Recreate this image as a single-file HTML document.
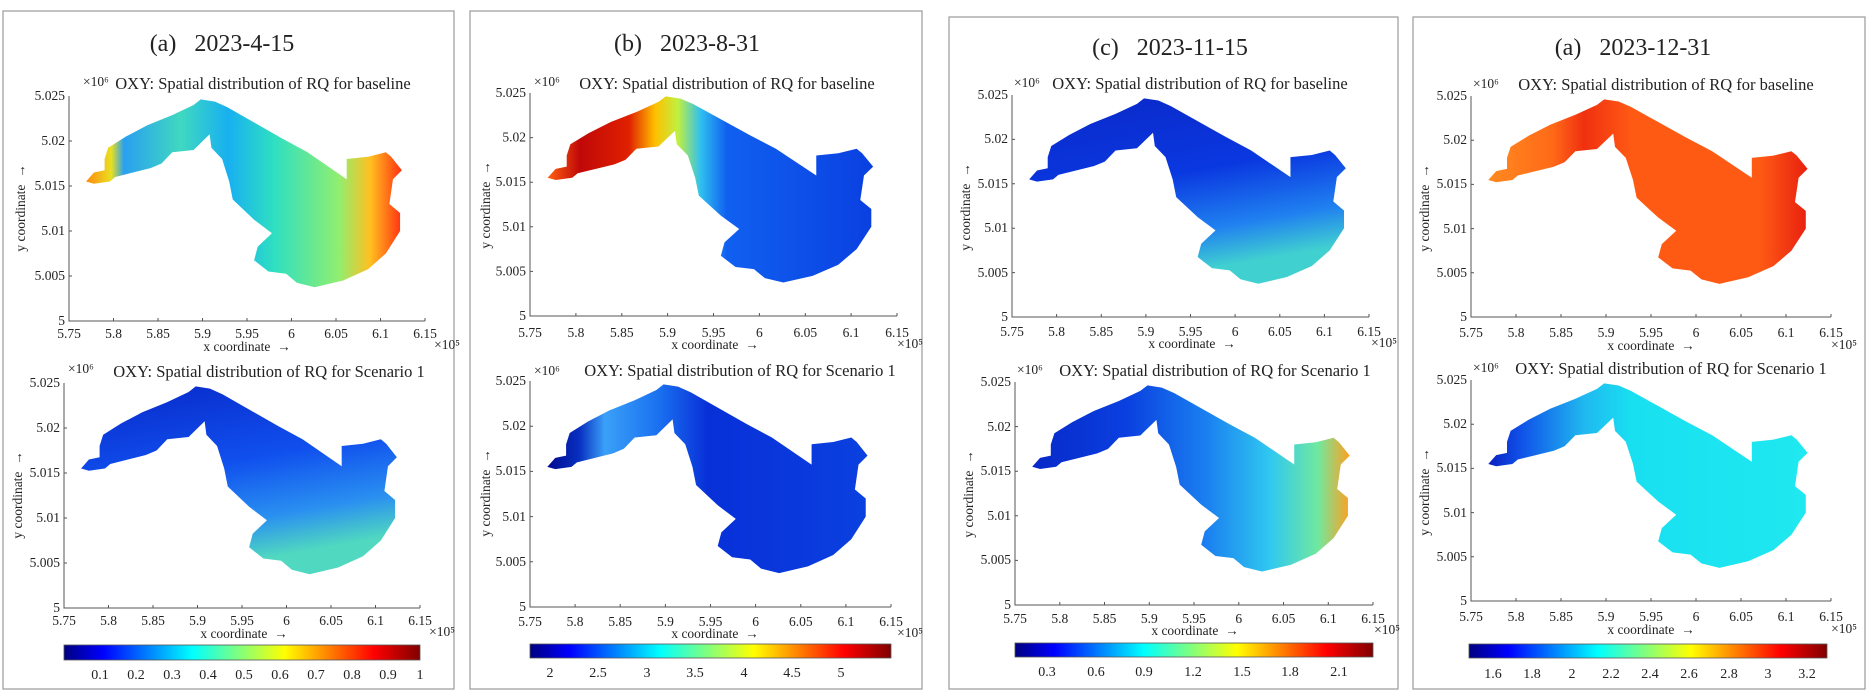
<!DOCTYPE html>
<html><head><meta charset="utf-8"><style>
html,body{margin:0;padding:0;background:#fff;}
svg{display:block;}
text{font-family:"Liberation Serif",serif;fill:#222;}
.tk{font-size:13.5px;}
.ax{font-size:13.5px;}
.st{font-size:16.5px;}
.tt{font-size:24px;}
.cb{font-size:14px;}
</style></head><body>
<svg width="1867" height="697" viewBox="0 0 1867 697" xmlns="http://www.w3.org/2000/svg">
<defs>
<linearGradient id="jet" x1="0" y1="0" x2="1" y2="0">
<stop offset="0" stop-color="#000080"/><stop offset="0.11" stop-color="#0000ff"/><stop offset="0.36" stop-color="#00ffff"/><stop offset="0.62" stop-color="#ffff00"/><stop offset="0.87" stop-color="#ff0000"/><stop offset="1" stop-color="#800000"/>
</linearGradient>
<linearGradient id="g1t" x1="0" y1="0" x2="1" y2="0">
<stop offset="0" stop-color="#ff8a10"/><stop offset="0.08" stop-color="#e8e020"/><stop offset="0.12" stop-color="#2aa0f0"/><stop offset="0.3" stop-color="#40d8c0"/><stop offset="0.45" stop-color="#18b0f0"/><stop offset="0.6" stop-color="#30e0c0"/><stop offset="0.8" stop-color="#90ee70"/><stop offset="0.9" stop-color="#ffc020"/><stop offset="1" stop-color="#ff3010"/>
</linearGradient>
<linearGradient id="g1b" x1="0" y1="0" x2="0.3" y2="1">
<stop offset="0" stop-color="#0828c8"/><stop offset="0.5" stop-color="#1050ee"/><stop offset="0.8" stop-color="#2a90f0"/><stop offset="1" stop-color="#50d8c0"/>
</linearGradient>
<linearGradient id="g2t" x1="0" y1="0" x2="1" y2="0">
<stop offset="0" stop-color="#ff6010"/><stop offset="0.1" stop-color="#c00808"/><stop offset="0.25" stop-color="#e02000"/><stop offset="0.33" stop-color="#ffc000"/><stop offset="0.4" stop-color="#c0f040"/><stop offset="0.47" stop-color="#30c0f0"/><stop offset="0.55" stop-color="#1060f0"/><stop offset="1" stop-color="#0a40e0"/>
</linearGradient>
<linearGradient id="g2b" x1="0" y1="0" x2="1" y2="0">
<stop offset="0" stop-color="#000a90"/><stop offset="0.1" stop-color="#0830c0"/><stop offset="0.18" stop-color="#3aa0f8"/><stop offset="0.35" stop-color="#1a70f0"/><stop offset="0.5" stop-color="#0830d8"/><stop offset="1" stop-color="#0a40e0"/>
</linearGradient>
<linearGradient id="g3t" x1="0" y1="0" x2="0.3" y2="1">
<stop offset="0" stop-color="#0a28c8"/><stop offset="0.5" stop-color="#0a38e0"/><stop offset="0.8" stop-color="#2080f0"/><stop offset="1" stop-color="#40d0d0"/>
</linearGradient>
<linearGradient id="g3b" x1="0" y1="0" x2="1" y2="0">
<stop offset="0" stop-color="#0828c8"/><stop offset="0.3" stop-color="#0a40e0"/><stop offset="0.55" stop-color="#1a80f0"/><stop offset="0.75" stop-color="#30c8f0"/><stop offset="0.9" stop-color="#70e8a0"/><stop offset="1" stop-color="#ffa020"/>
</linearGradient>
<linearGradient id="g4t" x1="0" y1="0" x2="1" y2="0">
<stop offset="0" stop-color="#ff8a20"/><stop offset="0.2" stop-color="#ff6a18"/><stop offset="0.3" stop-color="#f03010"/><stop offset="0.45" stop-color="#ff5a14"/><stop offset="0.85" stop-color="#ff5a14"/><stop offset="1" stop-color="#e82010"/>
</linearGradient>
<linearGradient id="g4b" x1="0" y1="0" x2="1" y2="0">
<stop offset="0" stop-color="#0a20c0"/><stop offset="0.1" stop-color="#1050e8"/><stop offset="0.3" stop-color="#20b8f0"/><stop offset="0.45" stop-color="#18e0f0"/><stop offset="1" stop-color="#20e8f0"/>
</linearGradient>
<polygon id="lake" points="0.048,0.38 0.07,0.34 0.10,0.33 0.10,0.28 0.11,0.23 0.16,0.18 0.22,0.13 0.29,0.085 0.35,0.04 0.37,0.015 0.41,0.025 0.445,0.05 0.60,0.19 0.67,0.25 0.78,0.37 0.78,0.28 0.84,0.27 0.89,0.25 0.905,0.27 0.935,0.33 0.91,0.37 0.90,0.48 0.93,0.52 0.93,0.60 0.89,0.70 0.84,0.77 0.77,0.82 0.69,0.85 0.64,0.83 0.61,0.79 0.56,0.78 0.52,0.73 0.53,0.67 0.57,0.61 0.52,0.55 0.46,0.46 0.45,0.38 0.43,0.28 0.40,0.23 0.395,0.17 0.35,0.24 0.29,0.25 0.26,0.30 0.23,0.32 0.13,0.36 0.115,0.38 0.07,0.39"/>
</defs>

<g fill="none" stroke="#9a9a9a" stroke-width="1.2">
<rect x="3" y="11" width="451" height="678"/>
<rect x="470" y="11" width="452" height="678"/>
<rect x="949" y="17" width="449" height="672"/>
<rect x="1413" y="17" width="452" height="672"/>
</g>

<text class="tt" x="222" y="51" text-anchor="middle">(a)&#160;&#160;&#160;2023-4-15</text>
<text class="tt" x="687" y="51" text-anchor="middle">(b)&#160;&#160;&#160;2023-8-31</text>
<text class="tt" x="1170" y="55" text-anchor="middle">(c)&#160;&#160;&#160;2023-11-15</text>
<text class="tt" x="1633" y="55" text-anchor="middle">(a)&#160;&#160;&#160;2023-12-31</text>

<!-- P1T -->
<g transform="translate(69,96)">
<svg x="0" y="0" width="356" height="225" viewBox="0 0 1 1" preserveAspectRatio="none"><use href="#lake" fill="url(#g1t)"/></svg>
<path d="M0,0V225H356M0,45h3M0,90h3M0,135h3M0,180h3M44.5,225v-3M89,225v-3M133.5,225v-3M178,225v-3M222.5,225v-3M267,225v-3M311.5,225v-3M356,225v-3" fill="none" stroke="#555" stroke-width="1"/>
<g class="tk" text-anchor="end"><text x="-4" y="4">5.025</text><text x="-4" y="49">5.02</text><text x="-4" y="94">5.015</text><text x="-4" y="139">5.01</text><text x="-4" y="184">5.005</text><text x="-4" y="229">5</text></g>
<g class="tk" text-anchor="middle"><text x="0" y="242">5.75</text><text x="44.5" y="242">5.8</text><text x="89" y="242">5.85</text><text x="133.5" y="242">5.9</text><text x="178" y="242">5.95</text><text x="222.5" y="242">6</text><text x="267" y="242">6.05</text><text x="311.5" y="242">6.1</text><text x="356" y="242">6.15</text></g>
<text class="tk" x="14" y="-10">×10⁶</text><text class="tk" x="378" y="253" text-anchor="middle">×10⁵</text>
<text class="ax" x="178" y="255" text-anchor="middle">x coordinate &#160;→</text>
<text class="ax" transform="translate(-44,112) rotate(-90)" text-anchor="middle">y coordinate &#160;→</text>
<text class="st" x="194" y="-7" text-anchor="middle">OXY: Spatial distribution of RQ for baseline</text>
</g>

<!-- P1B -->
<g transform="translate(64,383)">
<svg x="0" y="0" width="356" height="225" viewBox="0 0 1 1" preserveAspectRatio="none"><use href="#lake" fill="url(#g1b)"/></svg>
<path d="M0,0V225H356M0,45h3M0,90h3M0,135h3M0,180h3M44.5,225v-3M89,225v-3M133.5,225v-3M178,225v-3M222.5,225v-3M267,225v-3M311.5,225v-3M356,225v-3" fill="none" stroke="#555" stroke-width="1"/>
<g class="tk" text-anchor="end"><text x="-4" y="4">5.025</text><text x="-4" y="49">5.02</text><text x="-4" y="94">5.015</text><text x="-4" y="139">5.01</text><text x="-4" y="184">5.005</text><text x="-4" y="229">5</text></g>
<g class="tk" text-anchor="middle"><text x="0" y="242">5.75</text><text x="44.5" y="242">5.8</text><text x="89" y="242">5.85</text><text x="133.5" y="242">5.9</text><text x="178" y="242">5.95</text><text x="222.5" y="242">6</text><text x="267" y="242">6.05</text><text x="311.5" y="242">6.1</text><text x="356" y="242">6.15</text></g>
<text class="tk" x="4" y="-10">×10⁶</text><text class="tk" x="378" y="253" text-anchor="middle">×10⁵</text>
<text class="ax" x="180" y="255" text-anchor="middle">x coordinate &#160;→</text>
<text class="ax" transform="translate(-42,112) rotate(-90)" text-anchor="middle">y coordinate &#160;→</text>
<text class="st" x="205" y="-6" text-anchor="middle">OXY: Spatial distribution of RQ for Scenario 1</text>
</g>

<!-- P2T -->
<g transform="translate(530,93)">
<svg x="0" y="0" width="367" height="223" viewBox="0 0 1 1" preserveAspectRatio="none"><use href="#lake" fill="url(#g2t)"/></svg>
<path d="M0,0V223H367M0,44.6h3M0,89.2h3M0,133.8h3M0,178.4h3M45.9,223v-3M91.8,223v-3M137.6,223v-3M183.5,223v-3M229.4,223v-3M275.3,223v-3M321.1,223v-3M367,223v-3" fill="none" stroke="#555" stroke-width="1"/>
<g class="tk" text-anchor="end"><text x="-4" y="4">5.025</text><text x="-4" y="48.6">5.02</text><text x="-4" y="93.2">5.015</text><text x="-4" y="137.8">5.01</text><text x="-4" y="182.4">5.005</text><text x="-4" y="227">5</text></g>
<g class="tk" text-anchor="middle"><text x="0" y="244">5.75</text><text x="45.9" y="244">5.8</text><text x="91.8" y="244">5.85</text><text x="137.6" y="244">5.9</text><text x="183.5" y="244">5.95</text><text x="229.4" y="244">6</text><text x="275.3" y="244">6.05</text><text x="321.1" y="244">6.1</text><text x="367" y="244">6.15</text></g>
<text class="tk" x="4" y="-7">×10⁶</text><text class="tk" x="380" y="255" text-anchor="middle">×10⁵</text>
<text class="ax" x="185" y="256" text-anchor="middle">x coordinate &#160;→</text>
<text class="ax" transform="translate(-40,112) rotate(-90)" text-anchor="middle">y coordinate &#160;→</text>
<text class="st" x="197" y="-4" text-anchor="middle">OXY: Spatial distribution of RQ for baseline</text>
</g>

<!-- P2B -->
<g transform="translate(530,381)">
<svg x="0" y="0" width="361" height="226" viewBox="0 0 1 1" preserveAspectRatio="none"><use href="#lake" fill="url(#g2b)"/></svg>
<path d="M0,0V226H361M0,45.2h3M0,90.4h3M0,135.6h3M0,180.8h3M45.1,226v-3M90.2,226v-3M135.4,226v-3M180.5,226v-3M225.6,226v-3M270.8,226v-3M315.9,226v-3M361,226v-3" fill="none" stroke="#555" stroke-width="1"/>
<g class="tk" text-anchor="end"><text x="-4" y="4">5.025</text><text x="-4" y="49">5.02</text><text x="-4" y="94">5.015</text><text x="-4" y="140">5.01</text><text x="-4" y="185">5.005</text><text x="-4" y="230">5</text></g>
<g class="tk" text-anchor="middle"><text x="0" y="245">5.75</text><text x="45.1" y="245">5.8</text><text x="90.2" y="245">5.85</text><text x="135.4" y="245">5.9</text><text x="180.5" y="245">5.95</text><text x="225.6" y="245">6</text><text x="270.8" y="245">6.05</text><text x="315.9" y="245">6.1</text><text x="361" y="245">6.15</text></g>
<text class="tk" x="4" y="-6">×10⁶</text><text class="tk" x="380" y="256" text-anchor="middle">×10⁵</text>
<text class="ax" x="185" y="257" text-anchor="middle">x coordinate &#160;→</text>
<text class="ax" transform="translate(-40,112) rotate(-90)" text-anchor="middle">y coordinate &#160;→</text>
<text class="st" x="210" y="-5" text-anchor="middle">OXY: Spatial distribution of RQ for Scenario 1</text>
</g>

<!-- P3T -->
<g transform="translate(1012,95)">
<svg x="0" y="0" width="357" height="222" viewBox="0 0 1 1" preserveAspectRatio="none"><use href="#lake" fill="url(#g3t)"/></svg>
<path d="M0,0V222H357M0,44.4h3M0,88.8h3M0,133.2h3M0,177.6h3M44.6,222v-3M89.3,222v-3M133.9,222v-3M178.5,222v-3M223.1,222v-3M267.8,222v-3M312.4,222v-3M357,222v-3" fill="none" stroke="#555" stroke-width="1"/>
<g class="tk" text-anchor="end"><text x="-4" y="4">5.025</text><text x="-4" y="48">5.02</text><text x="-4" y="93">5.015</text><text x="-4" y="137">5.01</text><text x="-4" y="182">5.005</text><text x="-4" y="226">5</text></g>
<g class="tk" text-anchor="middle"><text x="0" y="241">5.75</text><text x="44.6" y="241">5.8</text><text x="89.3" y="241">5.85</text><text x="133.9" y="241">5.9</text><text x="178.5" y="241">5.95</text><text x="223.1" y="241">6</text><text x="267.8" y="241">6.05</text><text x="312.4" y="241">6.1</text><text x="357" y="241">6.15</text></g>
<text class="tk" x="2" y="-8">×10⁶</text><text class="tk" x="372" y="252" text-anchor="middle">×10⁵</text>
<text class="ax" x="180" y="253" text-anchor="middle">x coordinate &#160;→</text>
<text class="ax" transform="translate(-42,112) rotate(-90)" text-anchor="middle">y coordinate &#160;→</text>
<text class="st" x="188" y="-6" text-anchor="middle">OXY: Spatial distribution of RQ for baseline</text>
</g>

<!-- P3B -->
<g transform="translate(1015,382)">
<svg x="0" y="0" width="358" height="223" viewBox="0 0 1 1" preserveAspectRatio="none"><use href="#lake" fill="url(#g3b)"/></svg>
<path d="M0,0V223H358M0,44.6h3M0,89.2h3M0,133.8h3M0,178.4h3M44.8,223v-3M89.5,223v-3M134.3,223v-3M179,223v-3M223.8,223v-3M268.5,223v-3M313.3,223v-3M358,223v-3" fill="none" stroke="#555" stroke-width="1"/>
<g class="tk" text-anchor="end"><text x="-4" y="4">5.025</text><text x="-4" y="49">5.02</text><text x="-4" y="93">5.015</text><text x="-4" y="138">5.01</text><text x="-4" y="182">5.005</text><text x="-4" y="227">5</text></g>
<g class="tk" text-anchor="middle"><text x="0" y="241">5.75</text><text x="44.8" y="241">5.8</text><text x="89.5" y="241">5.85</text><text x="134.3" y="241">5.9</text><text x="179" y="241">5.95</text><text x="223.8" y="241">6</text><text x="268.5" y="241">6.05</text><text x="313.3" y="241">6.1</text><text x="358" y="241">6.15</text></g>
<text class="tk" x="2" y="-8">×10⁶</text><text class="tk" x="372" y="252" text-anchor="middle">×10⁵</text>
<text class="ax" x="180" y="253" text-anchor="middle">x coordinate &#160;→</text>
<text class="ax" transform="translate(-42,112) rotate(-90)" text-anchor="middle">y coordinate &#160;→</text>
<text class="st" x="200" y="-6" text-anchor="middle">OXY: Spatial distribution of RQ for Scenario 1</text>
</g>

<!-- P4T -->
<g transform="translate(1471,96)">
<svg x="0" y="0" width="360" height="221" viewBox="0 0 1 1" preserveAspectRatio="none"><use href="#lake" fill="url(#g4t)"/></svg>
<path d="M0,0V221H360M0,44.2h3M0,88.4h3M0,132.6h3M0,176.8h3M45,221v-3M90,221v-3M135,221v-3M180,221v-3M225,221v-3M270,221v-3M315,221v-3M360,221v-3" fill="none" stroke="#555" stroke-width="1"/>
<g class="tk" text-anchor="end"><text x="-4" y="4">5.025</text><text x="-4" y="48">5.02</text><text x="-4" y="92">5.015</text><text x="-4" y="137">5.01</text><text x="-4" y="181">5.005</text><text x="-4" y="225">5</text></g>
<g class="tk" text-anchor="middle"><text x="0" y="241">5.75</text><text x="45" y="241">5.8</text><text x="90" y="241">5.85</text><text x="135" y="241">5.9</text><text x="180" y="241">5.95</text><text x="225" y="241">6</text><text x="270" y="241">6.05</text><text x="315" y="241">6.1</text><text x="360" y="241">6.15</text></g>
<text class="tk" x="2" y="-8">×10⁶</text><text class="tk" x="373" y="253" text-anchor="middle">×10⁵</text>
<text class="ax" x="180" y="254" text-anchor="middle">x coordinate &#160;→</text>
<text class="ax" transform="translate(-42,112) rotate(-90)" text-anchor="middle">y coordinate &#160;→</text>
<text class="st" x="195" y="-6" text-anchor="middle">OXY: Spatial distribution of RQ for baseline</text>
</g>

<!-- P4B -->
<g transform="translate(1471,380)">
<svg x="0" y="0" width="360" height="221" viewBox="0 0 1 1" preserveAspectRatio="none"><use href="#lake" fill="url(#g4b)"/></svg>
<path d="M0,0V221H360M0,44.2h3M0,88.4h3M0,132.6h3M0,176.8h3M45,221v-3M90,221v-3M135,221v-3M180,221v-3M225,221v-3M270,221v-3M315,221v-3M360,221v-3" fill="none" stroke="#555" stroke-width="1"/>
<g class="tk" text-anchor="end"><text x="-4" y="4">5.025</text><text x="-4" y="48">5.02</text><text x="-4" y="92">5.015</text><text x="-4" y="137">5.01</text><text x="-4" y="181">5.005</text><text x="-4" y="225">5</text></g>
<g class="tk" text-anchor="middle"><text x="0" y="241">5.75</text><text x="45" y="241">5.8</text><text x="90" y="241">5.85</text><text x="135" y="241">5.9</text><text x="180" y="241">5.95</text><text x="225" y="241">6</text><text x="270" y="241">6.05</text><text x="315" y="241">6.1</text><text x="360" y="241">6.15</text></g>
<text class="tk" x="2" y="-8">×10⁶</text><text class="tk" x="373" y="253" text-anchor="middle">×10⁵</text>
<text class="ax" x="180" y="254" text-anchor="middle">x coordinate &#160;→</text>
<text class="ax" transform="translate(-42,112) rotate(-90)" text-anchor="middle">y coordinate &#160;→</text>
<text class="st" x="200" y="-6" text-anchor="middle">OXY: Spatial distribution of RQ for Scenario 1</text>
</g>

<!-- colorbars -->
<rect x="64" y="645" width="356" height="15" fill="url(#jet)" stroke="#555" stroke-width="0.8"/>
<g class="cb" text-anchor="middle"><text x="100" y="679">0.1</text><text x="136" y="679">0.2</text><text x="172" y="679">0.3</text><text x="208" y="679">0.4</text><text x="244" y="679">0.5</text><text x="280" y="679">0.6</text><text x="316" y="679">0.7</text><text x="352" y="679">0.8</text><text x="388" y="679">0.9</text><text x="420" y="679">1</text></g>

<rect x="530" y="644" width="361" height="14" fill="url(#jet)" stroke="#555" stroke-width="0.8"/>
<g class="cb" text-anchor="middle"><text x="550" y="677">2</text><text x="598" y="677">2.5</text><text x="647" y="677">3</text><text x="695" y="677">3.5</text><text x="744" y="677">4</text><text x="792" y="677">4.5</text><text x="841" y="677">5</text></g>

<rect x="1015" y="643" width="358" height="14" fill="url(#jet)" stroke="#555" stroke-width="0.8"/>
<g class="cb" text-anchor="middle"><text x="1047" y="676">0.3</text><text x="1096" y="676">0.6</text><text x="1144" y="676">0.9</text><text x="1193" y="676">1.2</text><text x="1242" y="676">1.5</text><text x="1290" y="676">1.8</text><text x="1339" y="676">2.1</text></g>

<rect x="1469" y="644" width="358" height="14" fill="url(#jet)" stroke="#555" stroke-width="0.8"/>
<g class="cb" text-anchor="middle"><text x="1493" y="678">1.6</text><text x="1532" y="678">1.8</text><text x="1572" y="678">2</text><text x="1611" y="678">2.2</text><text x="1650" y="678">2.4</text><text x="1689" y="678">2.6</text><text x="1729" y="678">2.8</text><text x="1768" y="678">3</text><text x="1807" y="678">3.2</text></g>
</svg>
</body></html>
